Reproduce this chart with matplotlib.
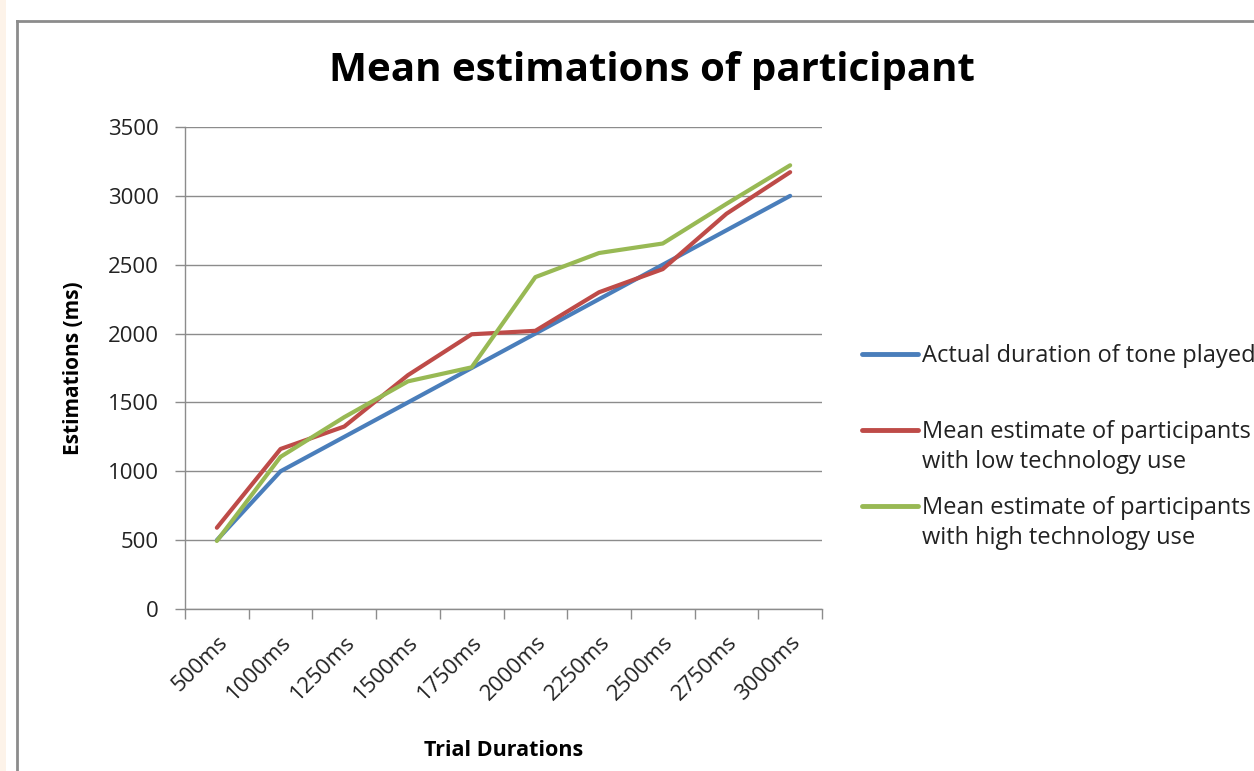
import matplotlib.pyplot as plt
from matplotlib.lines import Line2D
from matplotlib.patches import Rectangle
import numpy as np

plt.rcParams['font.family'] = ['Open Sans', 'DejaVu Sans']

durations = ['500ms', '1000ms', '1250ms', '1500ms', '1750ms',
             '2000ms', '2250ms', '2500ms', '2750ms', '3000ms']
actual = [500, 1000, 1250, 1500, 1750, 2000, 2250, 2500, 2750, 3000]
low_tech = [590, 1162, 1325, 1698, 1995, 2020, 2300, 2468, 2870, 3172]
high_tech = [494, 1105, 1393, 1653, 1755, 2410, 2585, 2654, 2942, 3222]

labels = ['Actual duration of tone played',
          'Mean estimate of participants\nwith low technology use',
          'Mean estimate of participants\nwith high technology use']
colors = ['#4A7EBB', '#BE4B48', '#98B954']

W, H = 1254, 771
fig = plt.figure(figsize=(W / 100, H / 100), dpi=100)

# faint strip on the left and the chart frame
fig.add_artist(Rectangle((0, 0), 6 / W, 1, transform=fig.transFigure,
                         facecolor='#FDF3E9', edgecolor='none'))
fig.add_artist(Line2D([17 / W, 17 / W], [0, 1 - 21 / H],
                      transform=fig.transFigure, color='#8C8C8C', lw=2))
fig.add_artist(Line2D([17 / W, 1], [1 - 21 / H, 1 - 21 / H],
                      transform=fig.transFigure, color='#8C8C8C', lw=2))

ax = fig.add_axes([185 / W, 1 - 609 / H, 637 / W, 482 / H])

x = np.arange(len(durations))
lines = []
for series, c in zip([actual, low_tech, high_tech], colors):
    ln, = ax.plot(x, series, color=c, lw=3, solid_capstyle='round')
    lines.append(ln)

ax.set_xlim(-0.5, len(durations) - 0.5)
ax.set_ylim(0, 3500)
ax.set_yticks(range(0, 3501, 500))
ax.grid(axis='y', color='#8C8C8C', lw=1)
ax.set_axisbelow(True)

# category labels sit between the boundary tick marks
ax.set_xticks(x)
ax.set_xticklabels(durations, rotation=45, ha='right', rotation_mode='anchor',
                   fontsize=16, color='#222222')
ax.set_xticks(np.arange(-0.5, len(durations)), minor=True)
ax.tick_params(axis='x', which='major', length=0, pad=16)
ax.tick_params(axis='x', which='minor', length=7, color='#8C8C8C', width=1)
ax.tick_params(axis='y', length=7, color='#8C8C8C', width=1, labelsize=16,
               labelcolor='#222222', pad=12)

for side in ['top', 'right']:
    ax.spines[side].set_visible(False)
for side in ['left', 'bottom']:
    ax.spines[side].set_color('#8C8C8C')
    ax.spines[side].set_linewidth(1)

ax.set_xlabel('Trial Durations', fontsize=15.5, fontweight='bold', labelpad=26)
ax.set_ylabel('Estimations (ms)', fontsize=15, fontweight='bold', labelpad=17)

fig.text(0.52, 1 - 70 / H, 'Mean estimations of participant',
         ha='center', va='center', fontsize=29, fontweight='bold')

# legend: handle level with the first line of each label
first_line_y = [354, 430, 506]
for ln, lab, y in zip(lines, labels, first_line_y):
    fig.add_artist(Line2D([862 / W, 918 / W], [1 - y / H, 1 - y / H],
                          transform=fig.transFigure, color=ln.get_color(),
                          lw=3.5, solid_capstyle='round'))
    fig.text(922 / W, 1 - (y - 10) / H, lab, ha='left', va='top',
             fontsize=17, color='#222222', linespacing=1.31)

fig.savefig('out.png', dpi=100)
